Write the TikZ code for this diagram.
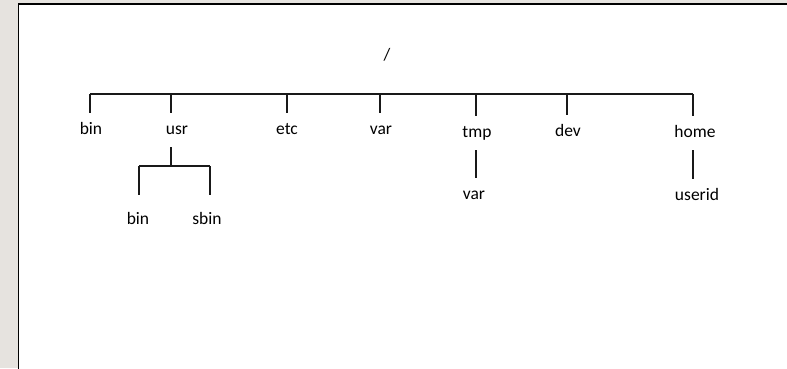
\documentclass[tikz,border=0pt]{standalone}
\usepackage{fontspec}
\setmainfont{Carlito}
\definecolor{frame}{HTML}{E6E3DF}
\tikzset{%
  every node/.style={
    inner xsep=1pt, inner ysep=9pt,
    text height=12pt, text depth=4pt,
    anchor=base,
    font=\fontsize{17.5}{20}\selectfont
  },
  low/.style={inner ysep=17pt},
  tree/.style={line width=1.5pt, black!90}
}

\begin{document}
\begin{tikzpicture}[x=1pt,y=-1pt]
      \useasboundingbox (0,0) rectangle (787,368);
      \fill[frame] (0,0) rectangle (787,368);
      \fill[white] (18.5,4) rectangle (800,380);
      \draw[line width=1.6pt] (18.5,380) -- (18.5,4) -- (800,4);
      \node (root) at (387,60) {/};
      \node (bin) at (91,134) {bin};
      \node (usr) at (177,134) {usr};
      \node (etc) at (287,134) {etc};
      \node (var) at (381,134) {var};
      \node (tmp) at (477,137) {tmp};
      \node (dev) at (568,136) {dev};
      \node (home) at (695,137) {home};
      \node[low] (ubin) at (138,224) {bin};
      \node[low] (sbin) at (207,224) {sbin};
      \node (tvar) at (474,199) {var};
      \node (userid) at (697,200) {userid};
      \coordinate (t1) at (90,94);
      \coordinate (t2) at (171,94);
      \coordinate (t3) at (287,94);
      \coordinate (t4) at (380,94);
      \coordinate (t5) at (476,94);
      \coordinate (t6) at (567,94);
      \coordinate (t7) at (693,94);
      \coordinate (u) at (171,166);
      \coordinate (ul) at (139,166);
      \coordinate (ur) at (210,166);
      \draw[tree] (t1) -- (t7);
      \foreach \t/\n in {t1/bin, t2/usr, t3/etc, t4/var, t5/tmp, t6/dev, t7/home}
        \draw[tree] (\t) -- (\t |- \n.north);
      \draw[tree] (u |- usr.south) -- (u);
      \draw[tree] (ul) -- (ur);
      \draw[tree] (ul) -- (ul |- ubin.north);
      \draw[tree] (ur) -- (ur |- sbin.north);
      \draw[tree] (t5 |- tmp.south) -- (t5 |- tvar.north);
      \draw[tree] (t7 |- home.south) -- (t7 |- userid.north);
    \end{tikzpicture}
\end{document}
